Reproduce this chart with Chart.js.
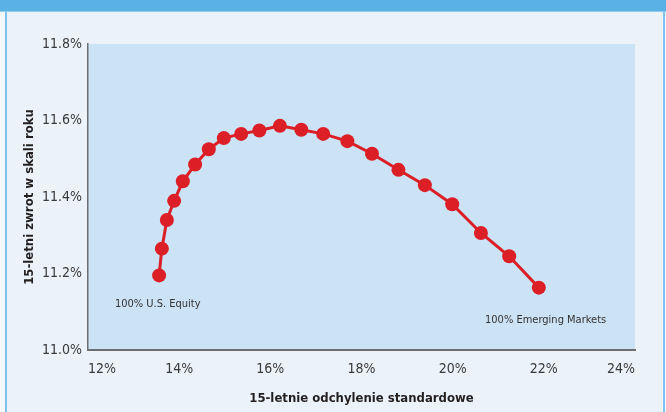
<!DOCTYPE html>
<html>
<head>
<meta charset="utf-8">
<script src="https://cdn.jsdelivr.net/npm/chart.js@4.4.1/dist/chart.umd.min.js"></script>
<style>
  html, body { margin: 0; padding: 0; background: #F4F8FC; }
  canvas { display: block; }
</style>
</head>
<body>
<canvas id="c" width="666" height="412"></canvas>
<script>
// Data (standard deviation %, annual return %)
const stdDev = [13.56, 13.62, 13.73, 13.89, 14.08, 14.35, 14.65, 14.98, 15.36, 15.76, 16.21,
                16.68, 17.16, 17.69, 18.23, 18.81, 19.39, 19.99, 20.62, 21.24, 21.89];
const annualReturn = [11.195, 11.265, 11.340, 11.390, 11.441, 11.485, 11.525, 11.554, 11.565, 11.574, 11.586,
                      11.576, 11.565, 11.546, 11.513, 11.471, 11.431, 11.381, 11.306, 11.245, 11.163];
const xTicks = [12, 14, 16, 18, 20, 22, 24];
const yTicks = [11.0, 11.2, 11.4, 11.6, 11.8];
const noteTexts = ['100% U.S. Equity', '100% Emerging Markets'];
const noteX = [12.59, 20.71];
const noteY = [11.12, 11.078];

const FONT = "'Liberation Sans Narrow', 'DejaVu Sans Condensed', 'Arial Narrow', sans-serif";

const points = stdDev.map((x, i) => ({ x: x, y: annualReturn[i] }));

const framePlugin = {
  id: 'frame',
  beforeDraw(chart) {
    const ctx = chart.ctx;
    const W = chart.width, H = chart.height;
    ctx.save();
    ctx.fillStyle = '#F4F8FC';
    ctx.fillRect(0, 0, W, H);
    ctx.fillStyle = '#EBF2FA';
    ctx.fillRect(6, 11, W - 8, H - 11);
    ctx.fillStyle = '#7EC3EC';
    ctx.fillRect(5, 11, 2, H - 11);
    ctx.fillRect(W - 3, 11, 2, H - 11);
    ctx.fillStyle = '#5AB2E4';
    ctx.fillRect(0, 0, W, 11);
    ctx.fillStyle = '#8FCBEF';
    ctx.fillRect(0, 11, W, 1);
    const a = chart.chartArea;
    ctx.fillStyle = '#CCE2F5';
    ctx.fillRect(a.left, a.top, a.right - a.left, a.bottom - a.top);
    ctx.restore();
  },
  afterDatasetsDraw(chart) {
    const ctx = chart.ctx;
    const xs = chart.scales.x, ys = chart.scales.y;
    ctx.save();
    ctx.fillStyle = '#333333';
    ctx.font = '11px ' + FONT;
    ctx.textAlign = 'left';
    ctx.textBaseline = 'middle';
    noteTexts.forEach((t, i) => {
      ctx.fillText(t, xs.getPixelForValue(noteX[i]), ys.getPixelForValue(noteY[i]));
    });
    ctx.restore();
  }
};

new Chart(document.getElementById('c'), {
  type: 'scatter',
  data: {
    datasets: [{
      data: points,
      showLine: true,
      borderColor: '#DC1F26',
      backgroundColor: '#DC1F26',
      borderWidth: 3,
      pointRadius: 7,
      pointBorderWidth: 0,
      pointBackgroundColor: '#DC1F26',
      tension: 0
    }]
  },
  options: {
    responsive: false,
    animation: false,
    devicePixelRatio: 1,
    layout: { padding: { top: 44, right: 31, bottom: 0, left: 0 } },
    plugins: { legend: { display: false }, tooltip: { enabled: false } },
    scales: {
      x: {
        type: 'linear',
        min: 12, max: 24,
        afterBuildTicks(scale) { scale.ticks = xTicks.map(v => ({ value: v })); },
        afterFit(scale) { scale.height = 62; },
        grid: { display: false, drawTicks: false },
        border: { display: true, color: '#6D6E71', width: 2 },
        ticks: {
          align: 'inner',
          padding: 11,
          color: '#3A3A3A',
          font: { family: FONT, size: 14 },
          callback: v => v + '%'
        },
        title: {
          display: true,
          text: '15-letnie odchylenie standardowe',
          color: '#231F20',
          font: { family: FONT, size: 13, weight: 'bold' },
          padding: { top: 0, bottom: 6 }
        }
      },
      y: {
        type: 'linear',
        min: 11.0, max: 11.8,
        afterBuildTicks(scale) { scale.ticks = yTicks.map(v => ({ value: v })); },
        afterFit(scale) { scale.width = 88; },
        grid: { display: false, drawTicks: false },
        border: { display: true, color: '#6D6E71', width: 1.5 },
        ticks: {
          padding: 6,
          color: '#3A3A3A',
          font: { family: FONT, size: 14 },
          callback: v => v.toFixed(1) + '%'
        },
        title: {
          display: true,
          text: '15-letni zwrot w skali roku',
          color: '#231F20',
          font: { family: FONT, size: 13, weight: 'bold' },
          padding: { top: 22, bottom: 0 }
        }
      }
    }
  },
  plugins: [framePlugin]
});
</script>
</body>
</html>
